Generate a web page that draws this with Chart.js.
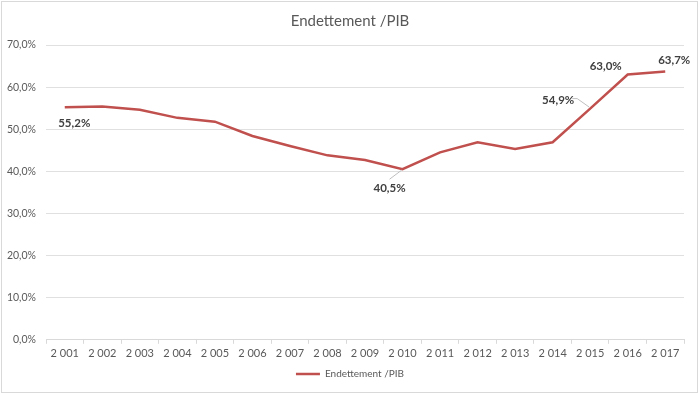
<!DOCTYPE html>
<html>
<head>
<meta charset="utf-8">
<script src="https://cdn.jsdelivr.net/npm/chart.js@4.4.1/dist/chart.umd.min.js"></script>
<style>
  html, body { margin: 0; padding: 0; background: #fff; }
  #wrap { position: relative; width: 700px; height: 394px; }
  #frame { position: absolute; left: 1px; top: 1px; width: 695px; height: 390px; border: 1px solid #d9d9d9; pointer-events: none; }
</style>
</head>
<body>
<div id="wrap">
  <canvas id="c" width="700" height="394"></canvas>
  <div id="frame"></div>
</div>
<script>
const years = ['2 001','2 002','2 003','2 004','2 005','2 006','2 007','2 008','2 009','2 010','2 011','2 012','2 013','2 014','2 015','2 016','2 017'];
const debtRatio = [55.2, 55.4, 54.6, 52.7, 51.8, 48.4, 46.0, 43.8, 42.7, 40.5, 44.5, 46.9, 45.3, 46.9, 54.9, 63.0, 63.7];
const labelledIdx = [0, 9, 14, 15, 16];
const seriesName = 'Endettement /PIB';

const FONT = 'Lato, Calibri, "Liberation Sans", sans-serif';

const labelPlugin = {
  id: 'pointLabels',
  afterDatasetsDraw(chart, args, opts) {
    const ctx = chart.ctx;
    const meta = chart.getDatasetMeta(0);
    ctx.save();
    ctx.font = 'bold 11.5px ' + FONT;
    ctx.fillStyle = '#404040';
    ctx.textAlign = 'center';
    ctx.textBaseline = 'middle';
    labelledIdx.forEach(i => {
      const pt = meta.data[i];
      const o = opts.offsets[i] || {dx: 0, dy: -12};
      const v = debtRatio[i];
      const txt = v.toFixed(1).replace('.', ',') + '%';
      const lx = pt.x + o.dx, ly = pt.y + o.dy;
      if (o.leader) {
        ctx.strokeStyle = '#bfbfbf';
        ctx.lineWidth = 1;
        ctx.beginPath();
        ctx.moveTo(pt.x + o.leader[0], pt.y + o.leader[1]);
        for (let k = 2; k < o.leader.length; k += 2) ctx.lineTo(pt.x + o.leader[k], pt.y + o.leader[k + 1]);
        ctx.stroke();
      }
      ctx.fillText(txt, lx, ly);
    });
    ctx.restore();
  }
};

new Chart(document.getElementById('c'), {
  type: 'line',
  data: {
    labels: years,
    datasets: [{
      label: seriesName,
      data: debtRatio,
      borderColor: '#C0504D',
      backgroundColor: '#C0504D',
      borderWidth: 2.5,
      pointRadius: 0,
      pointHoverRadius: 0,
      pointStyle: 'line',
      tension: 0,
      fill: false,
      yAxisID: 'y'
    }]
  },
  options: {
    responsive: false,
    animation: false,
    devicePixelRatio: 1,
    layout: { padding: { left: 0, right: 0, top: 0, bottom: 5 } },
    plugins: {
      title: {
        display: true,
        text: seriesName,
        color: '#595959',
        font: { family: FONT, size: 15, weight: 'normal' },
        padding: { top: 12, bottom: 15 }
      },
      legend: {
        position: 'bottom',
        labels: {
          color: '#595959',
          font: { family: FONT, size: 10 },
          usePointStyle: true,
          pointStyleWidth: 24,
          boxHeight: 8,
          padding: 10
        }
      },
      tooltip: { enabled: false },
      pointLabels: {
        offsets: {
          0: { dx: 9.5, dy: 15.5 },
          9: { dx: -13, dy: 19, leader: [-13, 10, -1, 1] },
          14: { dx: -32, dy: -8, leader: [-18, -10, -13, -10, -1, -1.5] },
          15: { dx: -22, dy: -8 },
          16: { dx: 9, dy: -11 }
        }
      }
    },
    scales: {
      x: {
        offset: true,
        afterFit(scale) { scale.height -= 4; },
        grid: {
          offset: true,
          drawOnChartArea: false,
          drawTicks: true,
          tickLength: 4,
          color: '#d9d9d9'
        },
        border: { display: true, color: '#d9d9d9' },
        ticks: {
          color: '#595959',
          font: { family: FONT, size: 11 },
          padding: 3,
          maxRotation: 0,
          autoSkip: false
        }
      },
      y: {
        min: 0,
        max: 70,
        afterFit(scale) { scale.width = 46; },
        grid: { color: '#e0e0e0', drawTicks: false, lineWidth: 1 },
        border: { display: false },
        ticks: {
          stepSize: 10,
          color: '#595959',
          font: { family: FONT, size: 10.5 },
          padding: 10,
          callback: v => v.toFixed(1).replace('.', ',') + '%'
        }
      },
      yRight: {
        position: 'right',
        min: 0,
        max: 70,
        afterFit(scale) { scale.width = 16; },
        grid: { display: false, drawOnChartArea: false },
        border: { display: false },
        ticks: { display: false }
      }
    }
  },
  plugins: [labelPlugin]
});
</script>
</body>
</html>
